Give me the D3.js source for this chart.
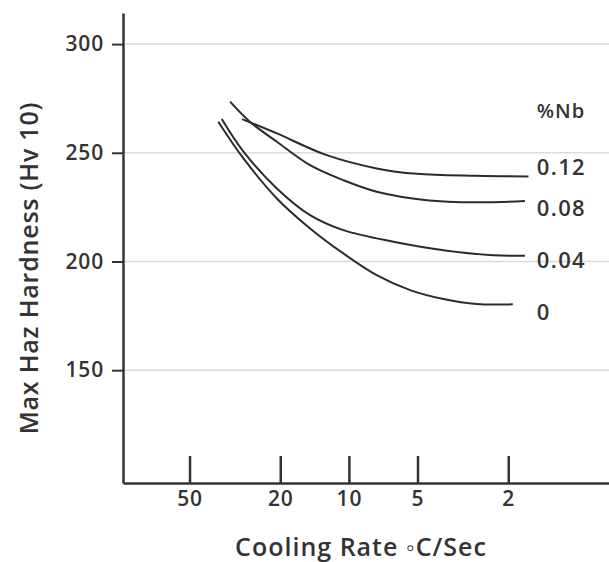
<!DOCTYPE html>
<html>
<head>
<meta charset="utf-8">
<script src="https://cdn.jsdelivr.net/npm/d3@7/dist/d3.min.js"></script>
<style>
  html, body { margin: 0; padding: 0; background: #fff; }
  svg { display: block; font-family: "Open Sans", sans-serif; font-weight: 600; }
</style>
</head>
<body>
<svg id="chart" width="609" height="562"></svg>
<script>
// ---- data ----
const xTicks = [50, 20, 10, 5, 2];
const yTicks = [150, 200, 250, 300];
const seriesNames = ["0.12", "0.08", "0.04", "0"];
const rate012 = [29.4, 20.7, 12.5, 7.55, 5.04, 2.75, 1.63];
const hv012   = [265.5, 258.9, 248.9, 242.8, 240.3, 239.4, 239.1];
const rate008 = [33.2, 27.2, 20.7, 14.8, 10.58, 7.55, 4.56, 2.75, 1.69];
const hv008   = [273.5, 264.3, 255.1, 244.3, 237.4, 232.1, 228.2, 227.2, 227.8];
const rate004 = [36.1, 29.0, 20.7, 14.8, 10.58, 6.38, 3.85, 2.32, 1.69];
const hv004   = [265.5, 250.5, 233.6, 221.3, 214.4, 209.1, 205.2, 202.9, 202.6];
const rate000 = [37.4, 29.0, 20.7, 14.8, 10.58, 7.55, 5.39, 3.85, 2.75, 1.91];
const hv000   = [264.3, 247.4, 229.0, 215.2, 203.7, 193.7, 186.8, 182.7, 180.4, 180.3];
const labelHv = [243.2, 224.4, 200.6, 176.5];
const legendTitle = "%Nb";
const legendTitleHv = 269;
const labelRate = 1.5;
const xTitle = "Cooling Rate \u25E6C/Sec";
const yTitle = "Max Haz Hardness (Hv 10)";

const series = [
  {name: seriesNames[0], rate: rate012, hv: hv012},
  {name: seriesNames[1], rate: rate008, hv: hv008},
  {name: seriesNames[2], rate: rate004, hv: hv004},
  {name: seriesNames[3], rate: rate000, hv: hv000}
];

// ---- layout ----
const plotLeft = 123, plotRight = 609, plotTop = 13, plotBottom = 483;
const textColor = "#333";
const lineColor = "#2b2b2b";

const svg = d3.select("#chart");

const x = d3.scaleLog().domain([97.9, 0.723]).range([plotLeft, plotRight]);
const y = d3.scaleLinear().domain([98.1, 314.3]).range([plotBottom, plotTop]);

// gridlines
svg.append("g")
  .selectAll("line")
  .data(yTicks)
  .join("line")
  .attr("x1", plotLeft).attr("x2", plotRight)
  .attr("y1", d => y(d)).attr("y2", d => y(d))
  .attr("stroke", "#dcdcdc").attr("stroke-width", 1.5);

// y axis
const yAxis = svg.append("g")
  .attr("transform", `translate(${plotLeft},0)`)
  .call(d3.axisLeft(y).tickValues(yTicks).tickSize(11).tickSizeOuter(0).tickPadding(8).tickFormat(d3.format("d")));
yAxis.select(".domain").attr("stroke", textColor).attr("stroke-width", 2.5);
yAxis.selectAll(".tick line").attr("stroke", textColor).attr("stroke-width", 2);
yAxis.selectAll(".tick text")
  .attr("fill", textColor).style("font-size", "21px").style("letter-spacing", "0.8px")
  .style("font-family", "'Open Sans', sans-serif").style("font-weight", 600);

// x axis: ticks drawn upward inside plot
const xAxis = svg.append("g")
  .attr("transform", `translate(0,${plotBottom})`)
  .call(d3.axisBottom(x).tickValues(xTicks).tickSizeInner(-27).tickSizeOuter(0).tickPadding(0).tickFormat(d3.format("d")));
xAxis.select(".domain").attr("stroke", textColor).attr("stroke-width", 2.5);
xAxis.selectAll(".tick line").attr("stroke", textColor).attr("stroke-width", 2.5);
xAxis.selectAll(".tick text")
  .attr("y", 23).attr("dy", 0)
  .attr("fill", textColor).style("font-size", "21px").style("letter-spacing", "0.8px")
  .style("font-family", "'Open Sans', sans-serif").style("font-weight", 600);

// curves
const line = d3.line()
  .x((d) => x(d[0]))
  .y((d) => y(d[1]))
  .curve(d3.curveCatmullRom.alpha(0.5));

svg.append("g")
  .selectAll("path")
  .data(series)
  .join("path")
  .attr("d", s => line(d3.zip(s.rate, s.hv)))
  .attr("fill", "none")
  .attr("stroke", lineColor)
  .attr("stroke-width", 2);

// series labels
svg.append("g")
  .selectAll("text")
  .data(series)
  .join("text")
  .attr("x", x(labelRate))
  .attr("y", (s, i) => y(labelHv[i]))
  .attr("dy", "0.35em")
  .attr("fill", textColor)
  .style("font-size", "22px").style("letter-spacing", "1.4px")
  .text(s => s.name);

svg.append("text")
  .attr("x", x(labelRate))
  .attr("y", y(legendTitleHv))
  .attr("dy", "0.35em")
  .attr("fill", textColor)
  .style("font-size", "20px").style("letter-spacing", "1px")
  .text(legendTitle);

// axis titles
svg.append("text")
  .attr("x", 361).attr("y", 556)
  .attr("text-anchor", "middle")
  .attr("fill", textColor)
  .style("font-size", "25px").style("letter-spacing", "1px")
  .text(xTitle);

svg.append("text")
  .attr("transform", `translate(38,268) rotate(-90)`)
  .attr("text-anchor", "middle")
  .attr("fill", textColor)
  .style("font-size", "25px").style("letter-spacing", "0.8px")
  .text(yTitle);
</script>
</body>
</html>
